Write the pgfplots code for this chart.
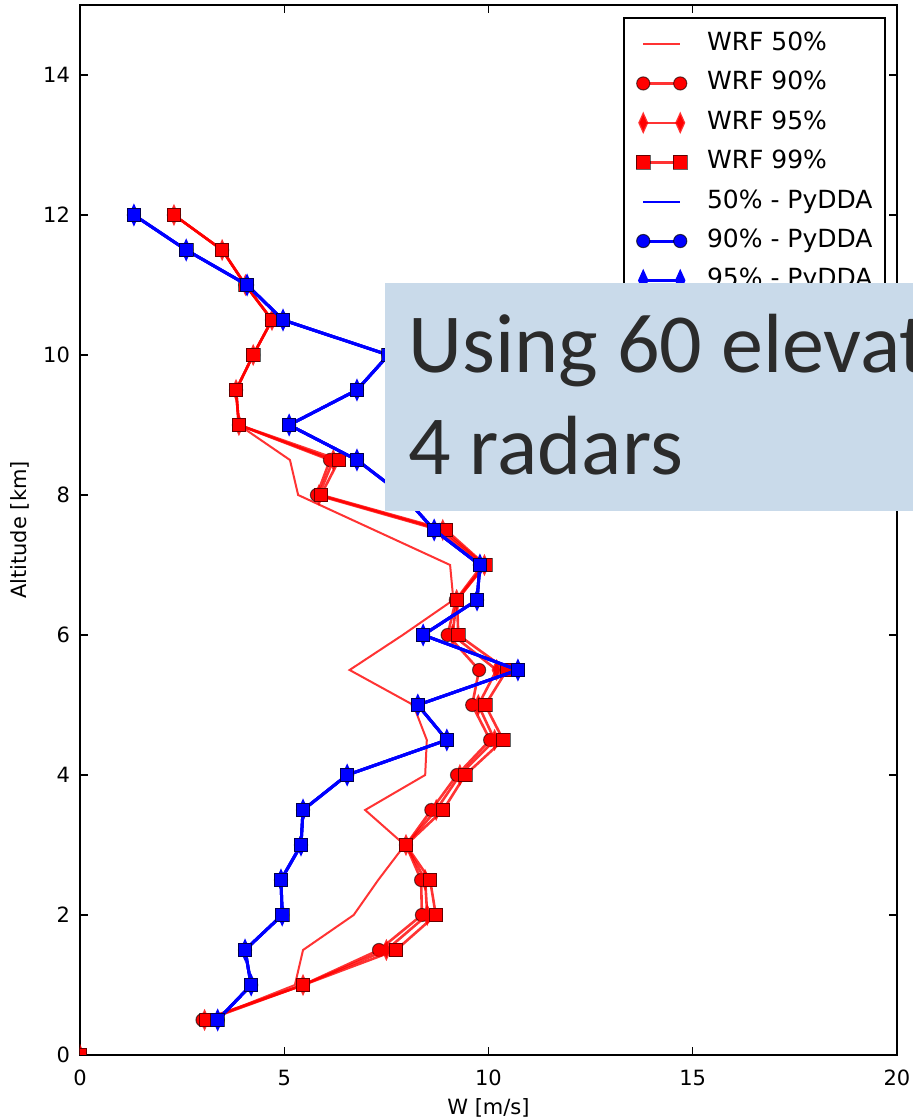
\documentclass[border=0pt]{standalone}
\usepackage{pgfplots}
\pgfplotsset{compat=1.18}
\usepackage{pgfplotstable}
\usepackage{fontspec}
\setmainfont{DejaVu Sans}
\newfontfamily\carlito{Carlito}
\definecolor{boxblue}{HTML}{C9DAEA}
\definecolor{boxtext}{HTML}{2B2B2B}

\pgfplotstableread{
alt p50 p90 p95 p99
0 nan 0 0 0
0.25 nan nan nan nan
0.5 3.1 3.0 3.05 3.1
1.0 5.26 5.46 5.46 5.46
1.5 5.46 7.32 7.5 7.74
2.0 6.7 8.37 8.5 8.71
2.5 7.3 8.35 8.45 8.57
3.0 7.95 7.98 7.98 7.98
3.5 6.98 8.6 8.72 8.89
4.0 8.45 9.23 9.3 9.43
4.5 8.49 10.04 10.15 10.36
5.0 8.16 9.6 9.75 9.92
5.5 6.6 9.77 10.2 10.45
6.0 7.9 9.0 9.12 9.26
6.5 9.14 9.2 9.22 9.23
7.0 9.06 9.85 9.9 9.92
7.5 7.2 8.8 8.88 8.96
8.0 5.34 5.8 5.85 5.9
8.5 5.14 6.12 6.2 6.34
9.0 3.89 3.89 3.89 3.89
9.5 3.82 3.82 3.82 3.82
10.0 4.24 4.24 4.24 4.24
10.5 4.7 4.7 4.7 4.7
11.0 4.05 4.05 4.05 4.05
11.5 3.48 3.48 3.48 3.48
12.0 2.3 2.3 2.3 2.3
}\wrf

\pgfplotstableread{
alt v
0.5 3.37
1.0 4.19
1.5 4.04
2.0 4.95
2.5 4.92
3.0 5.41
3.5 5.46
4.0 6.54
4.5 8.98
5.0 8.27
5.5 10.72
6.0 8.4
6.5 9.72
7.0 9.79
7.5 8.67
8.0 7.9
8.5 6.78
9.0 5.12
9.5 6.78
10.0 7.55
10.5 4.97
11.0 4.09
11.5 2.6
12.0 1.32
}\pydda

\begin{document}
\begin{tikzpicture}
\useasboundingbox (-40pt,-32.5pt) rectangle (416.5pt,527.5pt);
\clip (-40pt,-32.5pt) rectangle (416.5pt,527.5pt);
\begin{axis}[
  scale only axis, width=408.5pt, height=525pt,
  at={(0pt,0pt)}, anchor=south west,
  xmin=0, xmax=20, ymin=0, ymax=15,
  xtick={0,5,10,15,20}, ytick={0,2,...,14},
  tick align=inside, major tick length=4pt,
  every tick/.style={black, line width=0.6pt},
  axis line style={line width=1pt},
  ticklabel style={font=\fontsize{10.5}{12}\selectfont},
  /pgf/number format/assume math mode=true,
  xticklabel style={yshift=-4pt},
  yticklabel style={xshift=-1.5pt},
  xlabel={W [m/s]}, ylabel={Altitude [km]},
  label style={font=\fontsize{10.5}{12}\selectfont},
  xlabel style={at={(axis description cs:0.5,-0.0505)}, anchor=center},
  ylabel style={at={(axis description cs:-0.0734,0.5)}, anchor=center},
  unbounded coords=jump,
  clip marker paths=true,
  legend cell align=left,
  legend style={at={(0.986,0.989)}, anchor=north east, draw=black, line width=1pt,
    fill=white, font=\fontsize{12.5}{15}\selectfont, inner xsep=6pt, inner ysep=7pt,
    row sep=7.2pt, column sep=10pt,
    nodes={inner sep=0pt, text height=9.5pt, text depth=3pt}},
  legend image code/.code={\draw[#1] plot coordinates {(0pt,0pt) (18.5pt,0pt)};},
  wrf/.style={red, draw opacity=0.8, line width=1.3pt,
    mark options={solid, fill=red, draw=black, draw opacity=0.6, fill opacity=1, line width=0.5pt}},
  py/.style={blue, line width=1.5pt,
    mark options={solid, fill=blue, draw=black, draw opacity=0.7, fill opacity=1, line width=0.5pt}},
]
\addplot[red, draw opacity=0.8, line width=1pt] table[x=p50, y=alt] {\wrf};
\addlegendentry{WRF 50\%}
\addplot[wrf, mark=*, mark size=3.3pt] table[x=p90, y=alt] {\wrf};
\addlegendentry{WRF 90\%}
\addplot[wrf, mark=diamond*, mark size=4pt, mark options={xscale=0.6}] table[x=p95, y=alt] {\wrf};
\addlegendentry{WRF 95\%}
\addplot[wrf, mark=square*, mark size=3.4pt] table[x=p99, y=alt] {\wrf};
\addlegendentry{WRF 99\%}
\addplot[blue, line width=1pt] table[x=v, y=alt] {\pydda};
\addlegendentry{50\% - PyDDA}
\addplot[py, mark=*, mark size=3.3pt] table[x=v, y=alt] {\pydda};
\addlegendentry{90\% - PyDDA}
\addplot[py, mark=diamond*, mark size=4pt, mark options={xscale=0.6}] table[x=v, y=alt] {\pydda};
\addlegendentry{95\% - PyDDA}
\addplot[py, mark=square*, mark size=3.4pt] table[x=v, y=alt] {\pydda};
\addlegendentry{99\% - PyDDA}
\end{axis}
\fill[boxblue] (152.5pt,272pt) rectangle (440pt,386pt);
\node[anchor=base west, inner sep=0pt, text=boxtext, font=\carlito\fontsize{42}{51}\selectfont] at (164pt,341pt) {Using 60 elevations from};
\node[anchor=base west, inner sep=0pt, text=boxtext, font=\carlito\fontsize{42}{51}\selectfont] at (164pt,290pt) {4 radars};
\end{tikzpicture}
\end{document}
